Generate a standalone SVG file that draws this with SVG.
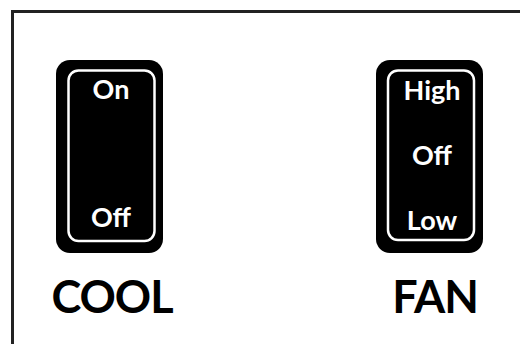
<svg xmlns="http://www.w3.org/2000/svg" width="520" height="344" viewBox="0 0 520 344">
<style>
.frame{fill:none;stroke:#222;stroke-width:3}
.body{fill:#000}
.bezel{fill:none;stroke:#fff;stroke-width:2.5}
.pos{fill:#fff;font-family:Lato,"Liberation Sans",sans-serif;font-weight:bold;font-size:27px;text-anchor:middle}
.label{fill:#000;font-family:Lato,"Liberation Sans",sans-serif;font-weight:bold;font-size:45px;letter-spacing:-1px;text-anchor:middle}
</style>
<rect width="520" height="344" fill="#fff"/>
<rect class="frame" x="12.5" y="11.5" width="520" height="340"/>
<g id="cool-switch">
<rect class="body" x="56" y="60" width="107" height="193" rx="14"/>
<rect class="bezel" x="68.5" y="70.5" width="86" height="170.5" rx="10"/>
<text class="pos" x="111" y="99">On</text>
<text class="pos" x="111" y="227">Off</text>
</g>
<g id="fan-switch">
<rect class="body" x="376" y="60" width="107" height="193" rx="14"/>
<rect class="bezel" x="388" y="70.5" width="86" height="169.5" rx="10"/>
<text class="pos" x="432" y="100">High</text>
<text class="pos" x="432" y="165">Off</text>
<text class="pos" x="432" y="230">Low</text>
</g>
<g id="cool-label"><text class="label" x="112" y="313">COOL</text></g>
<g id="fan-label"><text class="label" x="435" y="313">FAN</text></g>
</svg>
